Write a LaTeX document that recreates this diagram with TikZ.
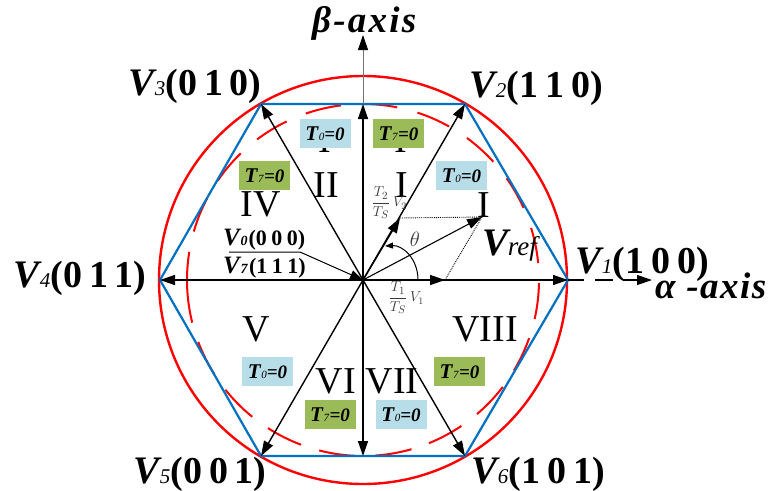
\documentclass[tikz,border=0pt]{standalone}
\usepackage{fontspec}
\setmainfont{Liberation Serif}
\usetikzlibrary{arrows.meta}
\definecolor{hexblue}{HTML}{0070C0}
\definecolor{boxblue}{HTML}{B7DDE8}
\definecolor{boxgreen}{HTML}{9BBB59}
\definecolor{softtext}{HTML}{3A3A3A}
\newcommand{\sizeto}[1]{\fontsize{#1}{#1}\selectfont}
\newcommand{\vlabel}[2]{{\sizeto{39}\textbf{\textit{V}}}\hspace{-2pt}{\itshape\sizeto{21}#1}{\sizeto{38}\spaceskip=7pt\relax\textbf{#2}}}
\newcommand{\smalllabel}[2]{{\sizeto{25}\textbf{\textit{V}}}\hspace{-1pt}{\bfseries\itshape\sizeto{14}#1}\hspace{1pt}{\sizeto{22}\spaceskip=4.5pt\relax\textbf{#2}}}
\newcommand{\tlabel}[1]{{\sizeto{21}\textbf{\textit{T}}}{\itshape\sizeto{11}#1}{\sizeto{19}\textbf{\textit{=0}}}}
\tikzset{
  bigtip/.style={-{Triangle[length=15pt,width=10pt]}},
  vecarrow/.style={bigtip,line width=1.4pt,black},
  reddash/.style={red,line width=2pt},
  lab/.style={inner sep=0pt,anchor=base west,text=black},
  roman/.style={inner sep=0pt,anchor=base,font=\sizeto{38},text=black},
  tblue/.style={fill=boxblue,minimum width=51pt,minimum height=29pt,inner sep=0pt},
  tgreen/.style={fill=boxgreen,minimum width=51pt,minimum height=29pt,inner sep=0pt},
  frac/.style={inner sep=0pt,text=softtext},
}
\begin{document}
\begin{tikzpicture}[x=1pt,y=-1pt]
\useasboundingbox (0,0) rectangle (771,490);
\coordinate (O) at (363,280);
\coordinate (v1) at (568,280);
\coordinate (v2) at (465,104);
\coordinate (v3) at (261,104);
\coordinate (v4) at (160,280);
\coordinate (v5) at (261,456);
\coordinate (v6) at (465,456);
\coordinate (top) at (363,104);
\coordinate (bot) at (363,456);
\coordinate (betastart) at (363,49);
\coordinate (betaend) at (363,35);
\coordinate (alphastart) at (636,280);
\coordinate (alphaend) at (652,280);
% hidden roman numerals behind the boxes
\node[roman] (h1) at (325,152) {I};
\node[roman] (h2) at (401,152) {I};
% circles
\draw[red,line width=2.4pt] (O) circle[radius=204];
\foreach \a/\b in {78.8/90.6,60.7/72,42.2/53.8,24.2/35.3,5.5/17.2,-12.8/-1,-31/-19.3,-49.6/-37.4,-68/-56,-86/-74,-104.4/-92.6,-122.7/-110.6,-141.4/-129,-159.4/-147.5,170.8/194,152.3/164,134/145.7,115.7/127,97.2/109}{
  \draw[reddash] (O) ++(-\a:176) arc[start angle=-\a,end angle=-\b,radius=176];
}
\draw[hexblue,line width=2.2pt,line join=miter] (v1)--(v2)--(v3)--(v4)--(v5)--(v6)--cycle;
% axis extensions
\draw[black!55,line width=0.9pt] (top)--(betastart);
\draw[bigtip,line width=0.9pt] (betastart)--(betaend);
\draw[black,line width=1.2pt,dash pattern=on 16pt off 11pt on 18pt off 10pt on 16pt off 30pt] (v1)--(alphastart);
\draw[bigtip,line width=1.2pt] (alphastart)--(alphaend);
% vectors
\foreach \t in {v1,v2,v3,v4,v5,v6,top,bot}{\draw[vecarrow] (O)--(\t);}
% reference construction
\coordinate (t2v) at (400,218);
\coordinate (t1v) at (445,280);
\coordinate (vr) at (482,217);
\draw[vecarrow] (O)--(t2v);
\draw[vecarrow] (O)--(t1v);
\draw[vecarrow,line width=1.1pt] (O)--(vr);
\draw[black,line width=0.9pt,densely dotted] (t2v)--(vr);
\draw[black,line width=0.9pt,densely dotted] (t1v)--(vr);
\coordinate (tha) at (418,280);
\coordinate (thb) at (385,246);
\draw[-{Triangle[length=8pt,width=6pt]},line width=1pt] (tha) .. controls (418,258) and (402,245) .. (thb);
% boxes
\node[tblue] (b1) at (325,133.5) {\tlabel{0}};
\node[tgreen] (b2) at (398.5,133.5) {\tlabel{7}};
\node[tblue] (b3) at (461.5,175.5) {\tlabel{0}};
\node[tgreen] (b4) at (264.5,175.5) {\tlabel{7}};
\node[tblue] (b5) at (267.5,371.5) {\tlabel{0}};
\node[tgreen] (b6) at (459.5,371.5) {\tlabel{7}};
\node[tgreen] (b7) at (330,414.5) {\tlabel{7}};
\node[tblue] (b8) at (401,414.5) {\tlabel{0}};
% roman numerals
\node[roman] (r1) at (401.5,197) {I};
\node[roman] (r2) at (326,197) {II};
\node[roman] (r3) at (484,217) {I};
\node[roman] (r4) at (260.5,216) {IV};
\node[roman] (r5) at (256,341) {V};
\node[roman] (r6) at (336,393) {VI};
\node[roman] (r7) at (392,393) {VII};
\node[roman] (r8) at (485,341) {VIII};
% vertex labels
\node[lab] (l1) at (575,273) {\vlabel{1}{(1 0 0)}};
\node[lab] (l2) at (469,97) {\vlabel{2}{(1 1 0)}};
\node[lab] (l3) at (128,95) {\vlabel{3}{(0 1 0)}};
\node[lab] (l4) at (13,287) {\vlabel{4}{(0 1 1)}};
\node[lab] (l5) at (133,483) {\vlabel{5}{(0 0 1)}};
\node[lab] (l6) at (471,483) {\vlabel{6}{(1 0 1)}};
\node[lab] (lb) at (312,32) {\addfontfeature{LetterSpace=6}\sizeto{37}\textbf{\textit{β-axis}}};
\node[lab] (la) at (655,298) {\addfontfeature{LetterSpace=4}\sizeto{37}\textbf{\textit{α -axis}}};
\node[lab] (lr) at (482,255) {{\sizeto{39}\textbf{\textit{V}}}\hspace{-3pt}{\itshape\sizeto{27}ref}};
% V0 / V7
\node[lab] (z0) at (223,245) {\smalllabel{0}{(0 0 0)}};
\node[lab] (z7) at (223,273) {\smalllabel{7}{(1 1 1)}};
\coordinate (lead1) at (229,252);
\coordinate (lead2) at (300,252);
\draw[black,line width=1pt,-{Triangle[length=13pt,width=9pt]}] (lead1)--(lead2)--(O);
% fractions
\node[frac] (f2) at (381,203) {\sizeto{15}$\displaystyle\frac{T_2}{T_S}$};
\node[frac,anchor=west] (f2v) at (393,203) {\sizeto{14}$V_2$};
\node[frac] (f1) at (398,298) {\sizeto{15}$\displaystyle\frac{T_1}{T_S}$};
\node[frac,anchor=west] (f1v) at (410,298) {\sizeto{14}$V_1$};
\node[frac] (th) at (415,239) {\sizeto{20}$\theta$};
\end{tikzpicture}
\end{document}
